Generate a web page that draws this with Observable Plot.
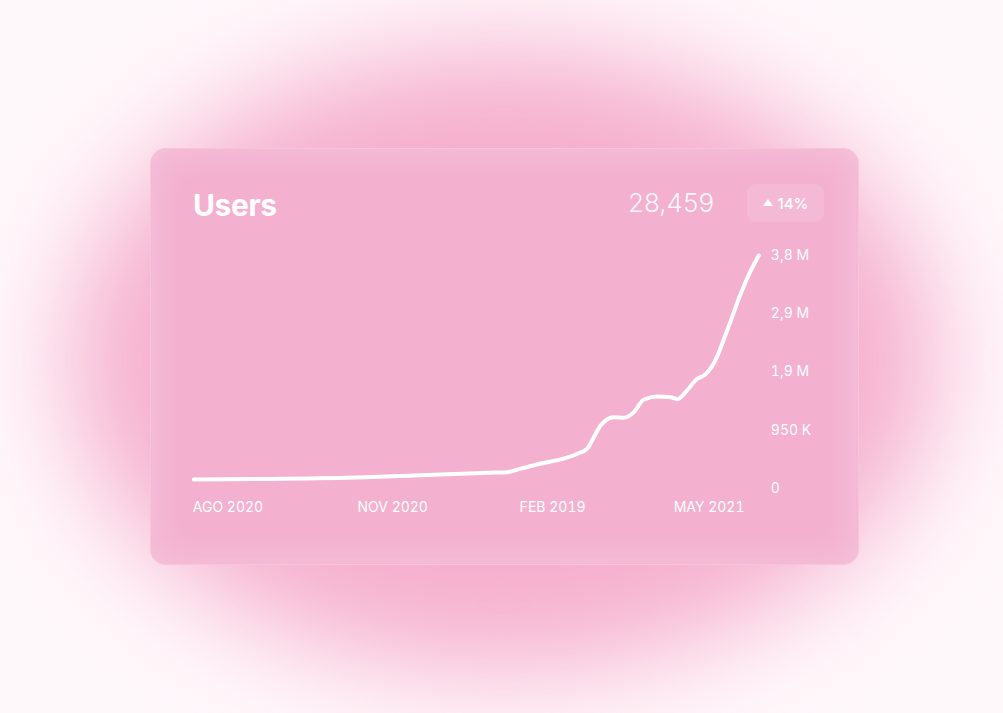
<!DOCTYPE html>
<html>
<head>
<meta charset="utf-8">
<script src="https://cdn.jsdelivr.net/npm/d3@7"></script>
<script src="https://cdn.jsdelivr.net/npm/@observablehq/plot@0.6"></script>
<style>
  html, body { margin:0; padding:0; }
  body { width:1003px; height:713px; position:relative; overflow:hidden; background:#fff8fb; font-family: Inter, "Noto Sans", sans-serif; }
  #glow { position:absolute; left:70px; top:50px; width:866px; height:620px; border-radius:50%; background:#f5aecd; filter: blur(55px); }
  #card { position:absolute; left:150px; top:148px; width:709px; height:417px; border-radius:16px; background:#f3b0cf;
          box-shadow: inset 0 0 40px rgba(255,255,255,0.28); border:1px solid rgba(255,255,255,0.25); box-sizing:border-box; }
  .title { position:absolute; left:193px; top:187px; line-height:36px; font-size:30px; font-weight:700; color:#fff; letter-spacing:-0.4px; }
  .value { position:absolute; left:628px; top:185px; line-height:36px; font-size:26px; font-weight:300; color:rgba(255,255,255,0.92); }
  .badge { position:absolute; left:747px; top:184px; width:77px; height:38px; border-radius:9px; background:rgba(255,255,255,0.13);
           display:flex; align-items:center; justify-content:center; gap:5px; color:#fff; font-size:15px; font-weight:500; }
  .tri { width:0; height:0; border-left:5px solid transparent; border-right:5px solid transparent; border-bottom:7px solid #fff; margin-top:-1px; }
  #chart { position:absolute; left:150px; top:240px; }
</style>
</head>
<body>
<div id="glow"></div>
<div id="card"></div>
<div class="title">Users</div>
<div class="value">28,459</div>
<div class="badge"><div class="tri"></div><span>14%</span></div>
<div id="chart"></div>
<script>
// x position (0–100 across the period) and users (millions)
const xPos  = [0, 27.2, 38.9, 53.4, 55.5, 57.4, 60.2, 67.9, 69.6, 70.8, 72.0, 74.3, 76.1, 77.9, 79.6, 82.0, 84.4, 85.6, 87.3, 89.1, 90.3, 92.0, 94.4, 96.8, 98.6, 100];
const users = [0.147, 0.175, 0.212, 0.259, 0.266, 0.312, 0.380, 0.566, 0.648, 0.837, 1.028, 1.163, 1.153, 1.245, 1.447, 1.501, 1.489, 1.458, 1.599, 1.790, 1.843, 2.034, 2.577, 3.176, 3.556, 3.8];
const xLabels   = ["AGO 2020", "NOV 2020", "FEB 2019", "MAY 2021"];
const xLabelPos = [6.05, 35.2, 63.5, 91.2];
const yTicks  = [0, 0.95, 1.9, 2.85, 3.8];
const yLabels = ["0", "950 K", "1,9 M", "2,9 M", "3,8 M"];

const data = xPos.map((x, i) => ({x, v: users[i]}));

const chart = Plot.plot({
  width: 700,
  height: 300,
  marginLeft: 43.3,
  marginRight: 91.7,
  marginTop: 15,
  marginBottom: 52,
  style: { background: "transparent", color: "#fff", fontFamily: "Inter, 'Noto Sans', sans-serif", fontSize: "14px", overflow: "visible" },
  x: { domain: [0, 100], axis: null },
  y: { domain: [0, 3.8], axis: null },
  marks: [
    Plot.axisX(xLabelPos, { tickFormat: d => xLabels[xLabelPos.indexOf(d)], tickSize: 0, tickPadding: 14, label: null, fill: "#fff", fontSize: 14 }),
    Plot.axisY(yTicks, { anchor: "right", tickFormat: d => yLabels[yTicks.indexOf(d)], tickSize: 0, tickPadding: 12, label: null, fill: "#fff", fontSize: 14 }),
    Plot.line(data, { x: "x", y: "v", curve: "monotone-x", stroke: "#fff", strokeWidth: 4, strokeLinecap: "round", strokeLinejoin: "round" })
  ]
});
document.getElementById("chart").appendChild(chart);
</script>
</body>
</html>
